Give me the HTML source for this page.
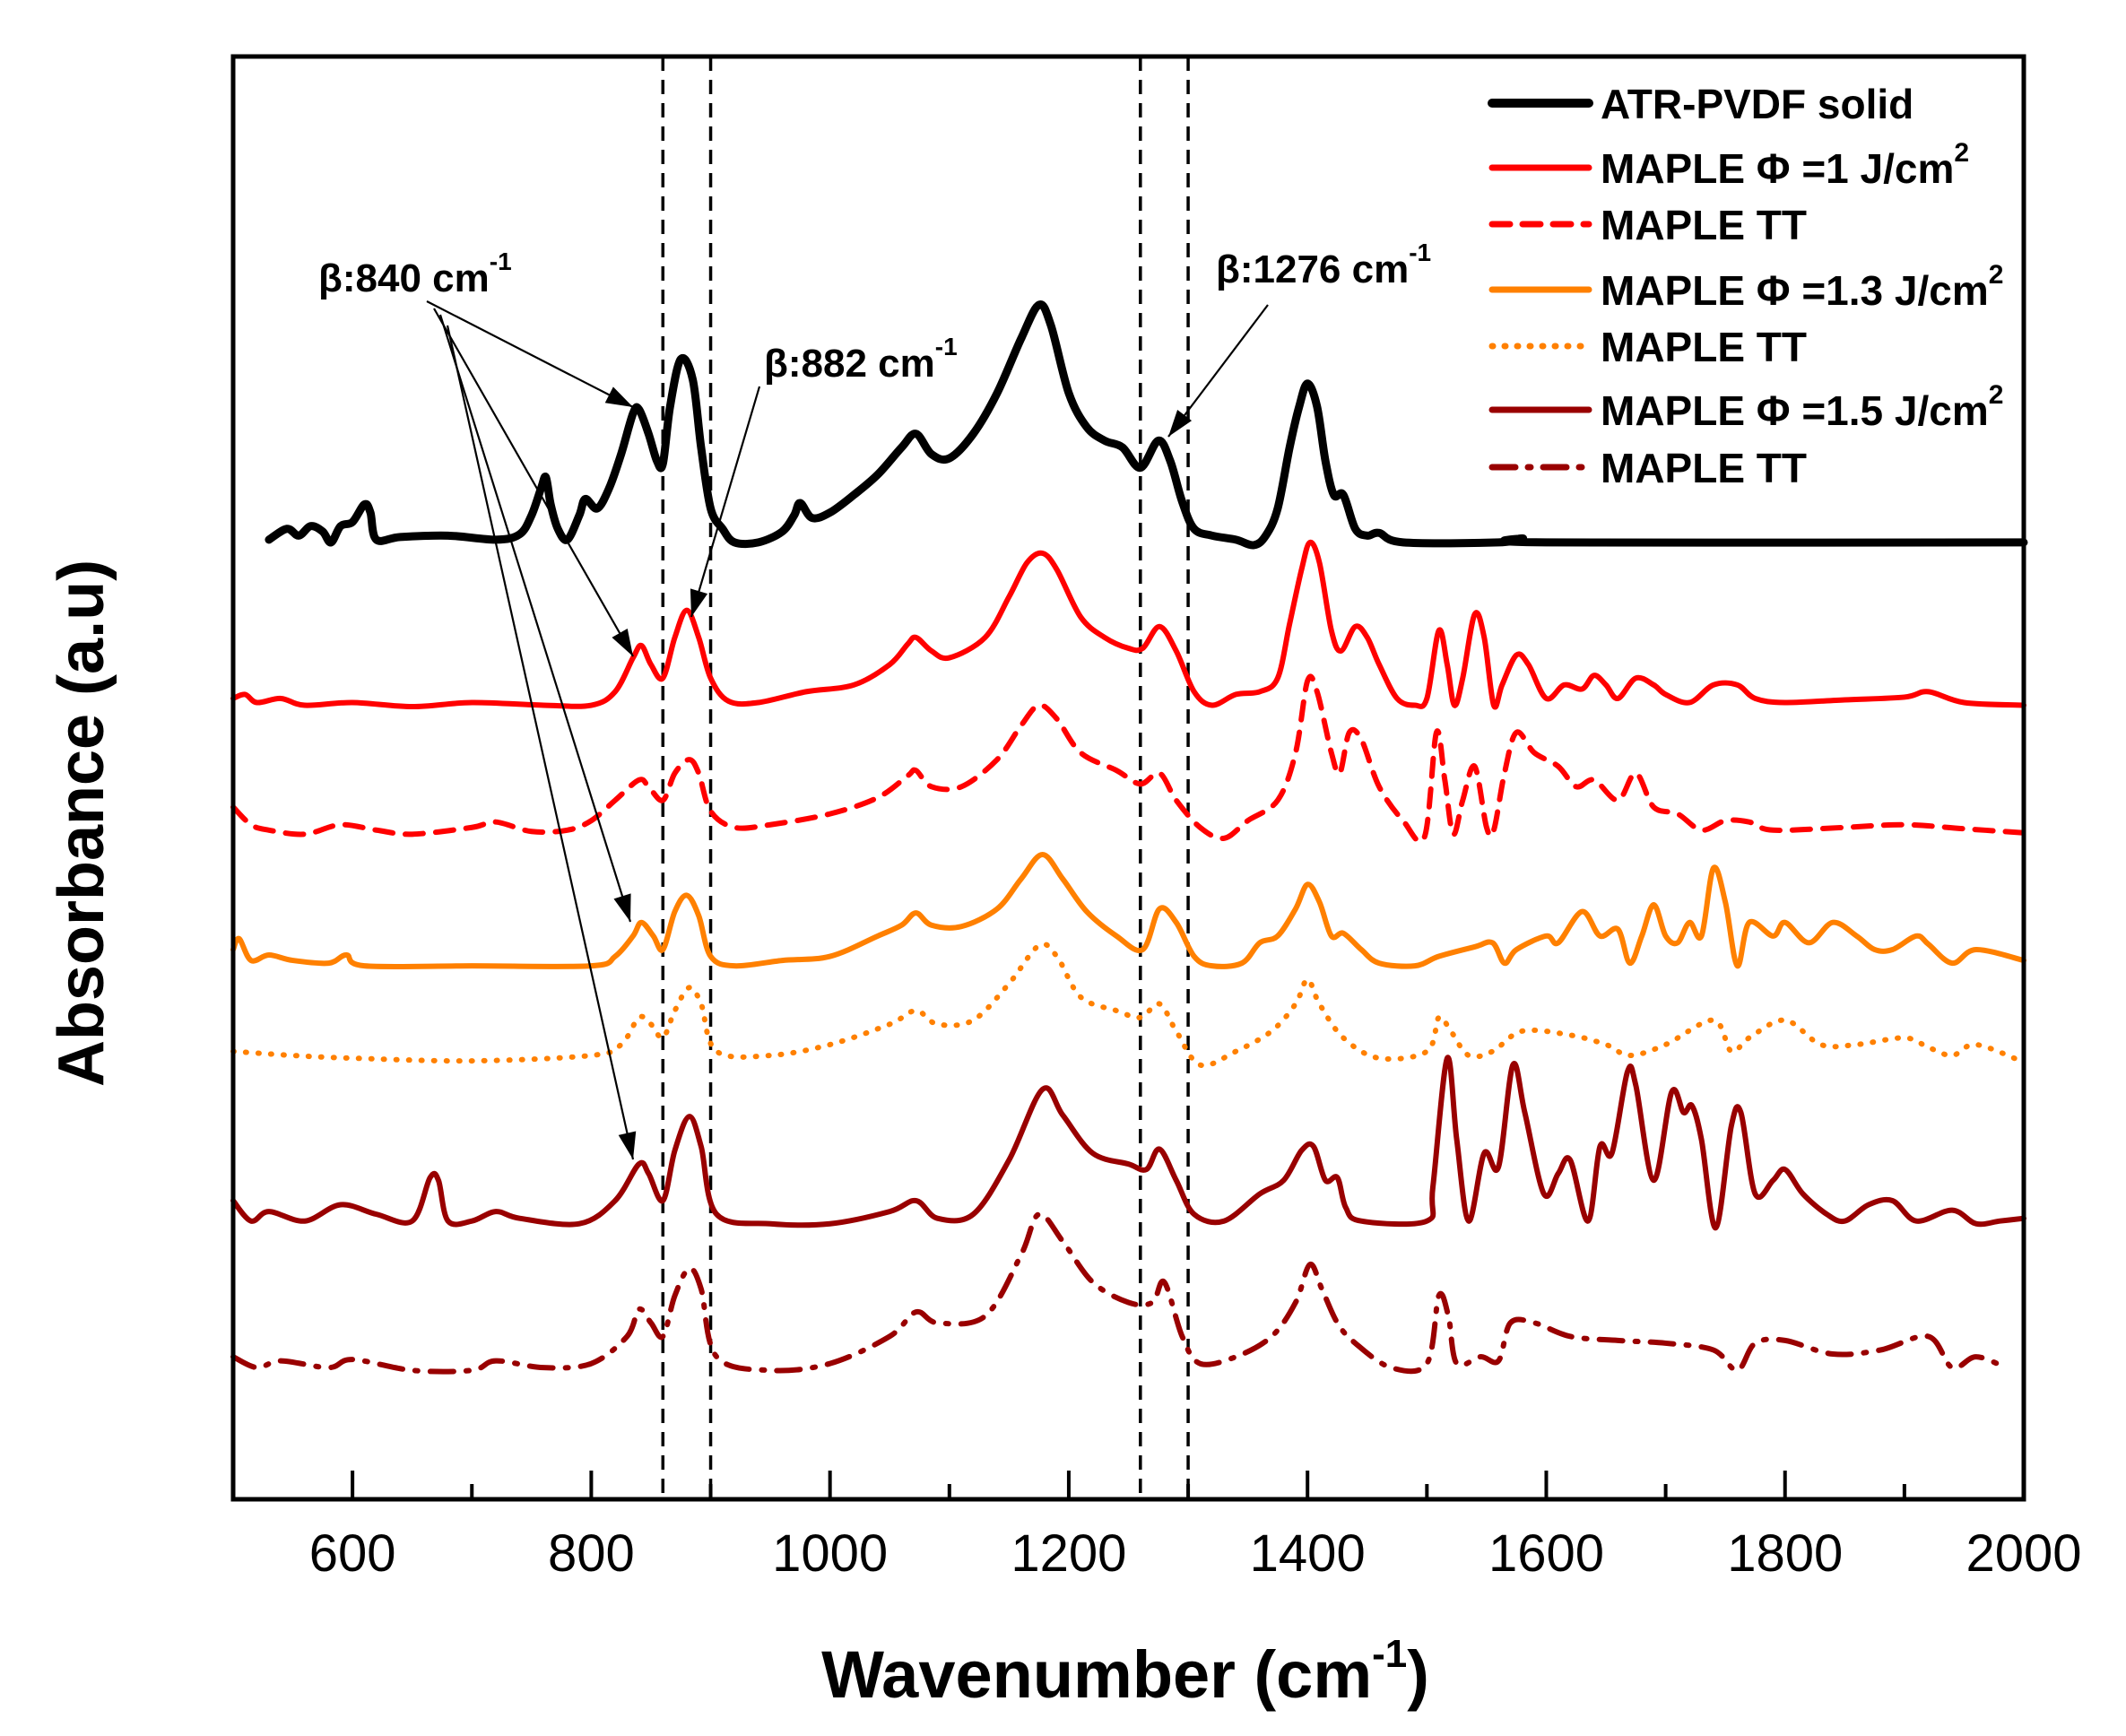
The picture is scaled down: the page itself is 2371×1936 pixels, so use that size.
<!DOCTYPE html>
<html><head><meta charset="utf-8"><style>
html,body{margin:0;padding:0;background:#fff}
svg{display:block;font-family:"Liberation Sans",Arial,sans-serif}
</style></head><body>
<svg id="chart" width="2371" height="1936" viewBox="0 0 2371 1936">
<g id="series"></g>
<rect x="260" y="63" width="1997" height="1609" fill="none" stroke="#000" stroke-width="5"/>
<g id="ticks"></g>
<text x="1255" y="1893" font-size="74" font-weight="bold" text-anchor="middle">Wavenumber (cm<tspan dy="-34" font-size="44">-1</tspan><tspan dy="34">)</tspan></text>
<text x="0" y="0" font-size="72" font-weight="bold" text-anchor="middle" transform="translate(115,918) rotate(-90)">Absorbance (a.u)</text>
<g id="legend"></g>
<g id="annot"></g>
</svg>
<script>
const xTicks=[600,800,1000,1200,1400,1600,1800,2000];
const xMinorTicks=[500,700,900,1100,1300,1500,1700,1900];
const refLines=[860,900,1260,1300];
const seriesNames=["ATR-PVDF solid","MAPLE Φ =1 J/cm2","MAPLE TT","MAPLE Φ =1.3 J/cm2","MAPLE TT","MAPLE Φ =1.5 J/cm2","MAPLE TT"];
const atrWn=[530,545,555,565,575,582,590,600,610,615,620,640,680,720,740,750,758,762,766,772,780,790,795,805,815,825,835,840,848,855,860,866,875,885,892,900,910,920,940,960,970,975,985,1000,1020,1040,1060,1072,1085,1100,1120,1140,1160,1175,1185,1200,1215,1230,1245,1260,1275,1285,1295,1305,1320,1340,1355,1365,1375,1385,1393,1400,1408,1415,1422,1430,1440,1450,1460,1480,1560,1580,1600,2000];
const atrAbs=[398,390,395,388,392,400,388,385,372,378,398,396,395,398,394,380,360,352,372,390,398,380,368,375,360,335,305,302,320,340,342,300,265,280,330,375,390,400,400,392,380,371,382,378,365,350,330,320,335,338,320,290,250,225,240,290,315,325,330,345,325,340,370,390,395,398,402,395,375,330,300,283,300,340,365,365,390,395,393,400,400,397,400,400];
const r1Wn=[500,510,520,540,560,600,650,700,760,800,820,835,842,850,860,870,880,890,900,915,940,980,1020,1050,1065,1072,1085,1100,1130,1150,1165,1178,1190,1210,1230,1250,1262,1276,1290,1305,1320,1340,1360,1375,1385,1395,1402,1410,1420,1428,1440,1450,1460,1475,1490,1500,1510,1517,1523,1530,1540,1548,1556,1563,1575,1585,1600,1615,1630,1640,1650,1660,1675,1690,1700,1720,1740,1760,1775,1800,1850,1900,1920,1950,2000];
const r1Abs=[515,512,518,515,520,518,521,518,520,520,510,485,476,490,500,470,450,470,500,517,518,510,505,490,475,470,480,485,470,440,415,408,420,455,470,478,478,462,480,510,520,512,510,500,460,420,400,415,465,480,462,470,490,515,520,515,465,490,520,500,453,470,520,505,483,490,515,505,508,498,505,515,500,505,512,518,505,505,515,518,516,514,510,518,520];
const r1tWn=[500,515,530,560,590,620,650,700,720,750,780,800,820,840,848,860,870,882,890,900,920,950,1000,1040,1065,1072,1085,1110,1140,1160,1175,1190,1210,1240,1260,1276,1290,1310,1330,1350,1375,1390,1400,1408,1420,1427,1435,1445,1460,1480,1498,1508,1515,1522,1530,1540,1550,1556,1565,1575,1590,1610,1625,1640,1660,1675,1690,1710,1730,1750,1770,1790,1850,1900,1950,2000];
const r1tAbs=[595,608,612,615,608,612,615,610,606,613,612,605,590,575,580,590,570,560,570,598,610,608,600,588,572,568,580,580,560,535,520,530,555,568,578,570,590,610,618,605,590,555,502,510,555,570,540,545,580,605,617,540,575,615,590,565,610,612,570,540,555,565,580,575,590,570,595,600,612,605,606,612,610,608,611,614];
const o1Wn=[500,505,515,530,550,580,595,610,700,800,820,835,842,852,860,870,880,890,900,920,960,1000,1040,1060,1072,1085,1110,1140,1160,1178,1195,1215,1240,1262,1276,1290,1305,1320,1345,1360,1375,1390,1400,1410,1420,1430,1445,1460,1490,1510,1540,1555,1565,1575,1600,1610,1630,1645,1660,1670,1680,1690,1700,1710,1720,1730,1740,1750,1760,1770,1790,1800,1820,1840,1860,1875,1890,1910,1920,1940,1960,2000];
const o1Abs=[700,692,708,704,708,710,704,712,712,712,705,690,680,690,700,672,660,675,705,712,708,705,690,682,673,682,683,670,648,630,648,672,690,700,670,680,705,712,710,695,690,670,652,665,690,688,700,710,712,705,698,695,710,700,690,695,672,690,685,710,690,667,690,695,680,690,640,665,712,680,690,680,695,680,690,700,700,690,696,710,700,708];
const o1tWn=[500,550,600,700,800,825,840,850,860,870,882,892,905,950,1000,1050,1072,1090,1120,1150,1175,1190,1210,1240,1260,1276,1290,1310,1340,1370,1390,1400,1410,1430,1460,1500,1510,1520,1535,1555,1580,1620,1650,1670,1700,1740,1755,1770,1800,1830,1860,1900,1920,1940,1960,2000];
const o1tAbs=[775,778,780,782,778,770,750,755,765,745,728,740,775,778,770,755,745,755,752,725,697,705,735,745,750,740,760,785,775,760,740,722,740,765,780,775,750,760,778,775,760,763,770,778,770,752,775,765,752,770,770,765,772,778,770,783];
const d1Wn=[500,515,530,560,590,620,650,665,672,680,700,720,740,790,820,840,848,860,870,882,892,905,950,1000,1050,1072,1090,1120,1150,1178,1195,1220,1250,1265,1276,1290,1305,1330,1360,1380,1395,1405,1415,1425,1432,1445,1500,1505,1517,1525,1535,1548,1560,1572,1582,1598,1610,1620,1635,1645,1655,1668,1675,1690,1705,1715,1722,1730,1742,1755,1763,1775,1790,1800,1815,1835,1850,1870,1890,1910,1940,1960,1980,2000];
const d1Abs=[885,900,893,900,888,895,900,868,870,900,900,893,898,902,885,858,865,885,848,823,845,895,902,902,893,885,898,895,855,803,822,850,858,862,847,870,895,900,880,870,848,845,870,868,890,900,900,875,780,840,900,850,860,785,820,880,865,855,900,845,850,790,800,870,805,820,815,840,905,830,820,880,870,862,880,895,900,888,885,900,892,902,900,898];
const d1tWn=[500,520,540,580,600,650,700,720,760,800,830,840,850,860,870,882,892,905,950,1000,1050,1072,1090,1130,1160,1175,1195,1220,1250,1270,1280,1295,1310,1340,1370,1390,1402,1412,1425,1440,1470,1500,1510,1518,1525,1545,1560,1570,1590,1620,1660,1700,1740,1760,1775,1800,1840,1880,1920,1940,1960,1985];
const d1tAbs=[1000,1008,1003,1008,1002,1010,1010,1003,1008,1005,985,965,975,985,955,935,950,1000,1010,1005,985,967,975,970,925,895,915,945,960,960,945,985,1005,1000,985,960,932,950,975,990,1008,1005,955,970,1005,1000,1003,975,975,985,988,990,995,1010,990,988,998,995,985,1008,1000,1008];

const X0=260,X1=2257,Y0=63,Y1=1672;
function xs(w){return X0+(w-500)*(X1-X0)/1500;}
function ys(v){return Y0+(v-42)*(Y1-Y0)/(1105-42);}
const NS="http://www.w3.org/2000/svg";
function mk(tag,attrs,parent){const e=document.createElementNS(NS,tag);for(const k in attrs)e.setAttribute(k,attrs[k]);parent.appendChild(e);return e;}
const styles=[
 {c:"#000",w:9,d:""},
 {c:"#ff0000",w:6,d:""},
 {c:"#ff0000",w:6,d:"20 14"},
 {c:"#ff8000",w:6,d:""},
 {c:"#ff8000",w:6,d:"1 13"},
 {c:"#990000",w:6,d:""},
 {c:"#990000",w:6,d:"26 14 3 14"}];
const sets=[[atrWn,atrAbs],[r1Wn,r1Abs],[r1tWn,r1tAbs],[o1Wn,o1Abs],[o1tWn,o1tAbs],[d1Wn,d1Abs],[d1tWn,d1tAbs]];
const sg=document.getElementById('series');
const seriesIds=['atr-pvdf-line','maple-1-line','maple-1-tt-line','maple-1-3-line','maple-1-3-tt-line','maple-1-5-line','maple-1-5-tt-line'];
refLines.forEach(w=>{
 const l=mk('line',{x1:xs(w),x2:xs(w),y1:Y0,y2:Y1,stroke:"#000","stroke-width":3.5,"stroke-dasharray":"16 10"},sg);
 
 
});
sets.forEach((s,i)=>{
 const wn=s[0],ab=s[1];
 const P=wn.map((w,j)=>[xs(w),ys(ab[j])]);
 let d="M"+P[0][0]+","+P[0][1];
 for(let j=0;j<P.length-1;j++){
  const p0=P[Math.max(0,j-1)],p1=P[j],p2=P[j+1],p3=P[Math.min(P.length-1,j+2)];
  const k=1/6;
  const c1x=p1[0]+(p2[0]-p0[0])*k,c1y=p1[1]+(p2[1]-p0[1])*k;
  const c2x=p2[0]-(p3[0]-p1[0])*k,c2y=p2[1]-(p3[1]-p1[1])*k;
  d+=" C"+c1x+","+c1y+" "+c2x+","+c2y+" "+p2[0]+","+p2[1];
 }
 const st=styles[i];
 const p=mk('path',{d:d,fill:"none",stroke:st.c,"stroke-width":st.w,"stroke-linecap":"round","stroke-linejoin":"round"},sg);
 if(st.d)p.setAttribute('stroke-dasharray',st.d);
 
 
});
const tg=document.getElementById('ticks');
xTicks.forEach(w=>{
 const l=mk('line',{x1:xs(w),x2:xs(w),y1:Y1,y2:Y1-32,stroke:"#000","stroke-width":4},tg);
 
 
 const t=mk('text',{x:xs(w),y:1752,"font-size":58,"text-anchor":"middle"},tg);
 t.textContent=w;
 
 
});
xMinorTicks.forEach(w=>{
 const l=mk('line',{x1:xs(w),x2:xs(w),y1:Y1,y2:Y1-17,stroke:"#000","stroke-width":4},tg);
 
 
});
const lg=document.getElementById('legend');
const legY=[115,187,250,323,386,457,521];
const legLabels=[["ATR-PVDF solid",""],["MAPLE Φ =1 J/cm","2"],["MAPLE TT",""],["MAPLE Φ =1.3 J/cm","2"],["MAPLE TT",""],["MAPLE Φ =1.5 J/cm","2"],["MAPLE TT",""]];
legLabels.forEach((lab,i)=>{
 const st=styles[i];
 const l=mk('line',{x1:1664,x2:1772,y1:legY[i],y2:legY[i],stroke:st.c,"stroke-width":i==0?10:7,"stroke-linecap":"round"},lg);
 if(st.d)l.setAttribute('stroke-dasharray',st.d);
 
 
 const t=mk('text',{x:1785,y:legY[i]+17,"font-size":46,"font-weight":"bold"},lg);
 t.textContent=lab[0];
 if(lab[1]){const s=mk('tspan',{dy:-24,"font-size":30},t);s.textContent=lab[1];}
 
 
});
const ag=document.getElementById('annot');
function label(x,y,txt){
 const t=mk('text',{x:x,y:y,"font-size":44,"font-weight":"bold"},ag);
 t.textContent=txt;
 const s=mk('tspan',{dy:-24,"font-size":28},t);s.textContent="-1";
 return t;
}
let t1=label(355,325,"β:840 cm");


let t2=label(852,420,"β:882 cm");


let t3=label(1356,315,"β:1276 cm");


const arrows=[[476,336,706,454],[484,344,706,732],[491,351,703,1028],[499,363,706,1293],[847,431,771,688],[1414,340,1303,487]];
arrows.forEach(a=>{
 const [x1,y1,x2,y2]=a;
 const l=mk('line',{x1:x1,y1:y1,x2:x2,y2:y2,stroke:"#000","stroke-width":2.2},ag);
 
 
 const ang=Math.atan2(y2-y1,x2-x1),L=30,W=10;
 const bx=x2-L*Math.cos(ang),by=y2-L*Math.sin(ang);
 const px=-Math.sin(ang)*W,py=Math.cos(ang)*W;
 const h=mk('polygon',{points:`${x2},${y2} ${bx+px},${by+py} ${bx-px},${by-py}`,fill:"#000"},ag);
 
 
});
</script>
</body></html>
